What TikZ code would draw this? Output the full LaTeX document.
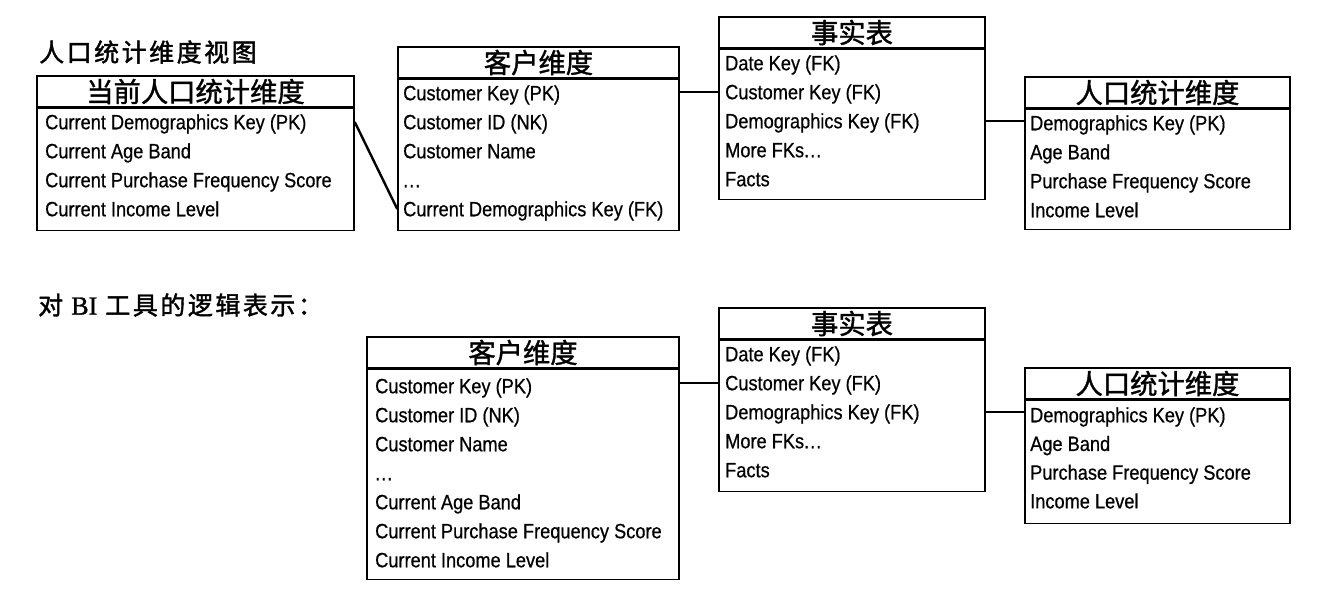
\documentclass[tikz,border=0pt]{standalone}
\usepackage{fontspec}
\setmainfont{Liberation Sans}[FakeStretch=0.88, FakeBold=0.6]
\newfontfamily\cjk{Noto Sans CJK SC}[FakeBold=1.4]
\newfontfamily\cjktitle{Noto Sans CJK SC}[LetterSpace=10, FakeBold=1.6]
\newfontfamily\biserif{Liberation Serif}[FakeBold=1.2]
\usetikzlibrary{positioning}

\newcommand\rowfont{\fontsize{20.7}{24}\selectfont}
\newcommand\hdrfont{\cjk\fontsize{27.3}{30}\selectfont}
\newcommand\ttlfont{\cjktitle\fontsize{25}{27}\selectfont}
\newcommand\threedots{.\kern1pt.\kern1pt.}

\begin{document}
\begin{tikzpicture}[
  x=1pt, y=-1pt,
  hdr/.style={draw, line width=1.5pt, inner sep=0pt, minimum height=31pt, font=\hdrfont},
  tbody/.style={draw, line width=1.5pt, inner sep=0pt},
  row/.style={anchor=west, inner sep=0pt, text height=14.5pt, text depth=0pt, font=\rowfont},
  link/.style={line width=2.4pt},
  ttl/.style={anchor=west, inner sep=0pt, font=\ttlfont},
]
\useasboundingbox (0,0) rectangle (1342,614);

% titles
\node [ttl] (ttl1) at (39,52) {人口统计维度视图};
\node [ttl] (ttl2) at (38,305) {对 {\biserif\fontsize{26}{27}\selectfont BI} 工具的逻辑表示：};

% --- top: view on the demographics dimension
\node [hdr, minimum width=317pt] (cdh) at (195.5,91.5) {当前人口统计维度};
\node [tbody, minimum width=317pt, minimum height=122pt, below=0pt of cdh] (cd) {};
\foreach \t [count=\i] in {{Current Demographics Key (PK)}, {Current Age Band},
    {Current Purchase Frequency Score}, {Current Income Level}}
  \node [row] (cd\i) at (45,{122+29*(\i-1)}) {\t};

\node [hdr, minimum width=281pt] (cuh) at (538.5,62.5) {客户维度};
\node [tbody, minimum width=281pt, minimum height=151pt, below=0pt of cuh] (cu) {};
\foreach \t [count=\i] in {{Customer Key (PK)}, {Customer ID (NK)}, {Customer Name},
    {\threedots}, {Current Demographics Key (FK)}}
  \node [row] (cu\i) at (403,{93+29*(\i-1)}) {\t};

\node [hdr, minimum width=266pt] (fth) at (852,32.5) {事实表};
\node [tbody, minimum width=266pt, minimum height=150pt, below=0pt of fth] (ft) {};
\foreach \t [count=\i] in {{Date Key (FK)}, {Customer Key (FK)}, {Demographics Key (FK)},
    {More FKs\threedots}, {Facts}}
  \node [row] (ft\i) at (725,{63+29*(\i-1)}) {\t};

\node [hdr, minimum width=265pt] (dmh) at (1157.5,92.5) {人口统计维度};
\node [tbody, minimum width=265pt, minimum height=120pt, below=0pt of dmh] (dm) {};
\foreach \t [count=\i] in {{Demographics Key (PK)}, {Age Band},
    {Purchase Frequency Score}, {Income Level}}
  \node [row] (dm\i) at (1030,{123+29*(\i-1)}) {\t};

\draw [link] (cd1 -| cd.east) -- (cu5 -| cu.west);
\draw [link] (ft2 -| cu.east) -- (ft2 -| ft.west);
\draw [link] (ft3 -| ft.east) -- (ft3 -| dm.west);

% --- bottom: what the BI tool sees
\node [hdr, minimum width=312pt] (cubh) at (523,352.5) {客户维度};
\node [tbody, minimum width=312pt, minimum height=210pt, below=0pt of cubh] (cub) {};
\foreach \t [count=\i] in {{Customer Key (PK)}, {Customer ID (NK)}, {Customer Name},
    {\threedots}, {Current Age Band}, {Current Purchase Frequency Score}, {Current Income Level}}
  \node [row] (cub\i) at (375,{386+29*(\i-1)}) {\t};

\node [hdr, minimum width=266pt] (ftbh) at (852,323.5) {事实表};
\node [tbody, minimum width=266pt, minimum height=151pt, below=0pt of ftbh] (ftb) {};
\foreach \t [count=\i] in {{Date Key (FK)}, {Customer Key (FK)}, {Demographics Key (FK)},
    {More FKs\threedots}, {Facts}}
  \node [row] (ftb\i) at (725,{354+29*(\i-1)}) {\t};

\node [hdr, minimum width=265pt] (dmbh) at (1157.5,383.5) {人口统计维度};
\node [tbody, minimum width=265pt, minimum height=123pt, below=0pt of dmbh] (dmb) {};
\foreach \t [count=\i] in {{Demographics Key (PK)}, {Age Band},
    {Purchase Frequency Score}, {Income Level}}
  \node [row] (dmb\i) at (1030,{415+28.7*(\i-1)}) {\t};

\draw [link] (ftb2 -| cub.east) -- (ftb2 -| ftb.west);
\draw [link] (ftb3 -| ftb.east) -- (ftb3 -| dmb.west);

\end{tikzpicture}
\end{document}
